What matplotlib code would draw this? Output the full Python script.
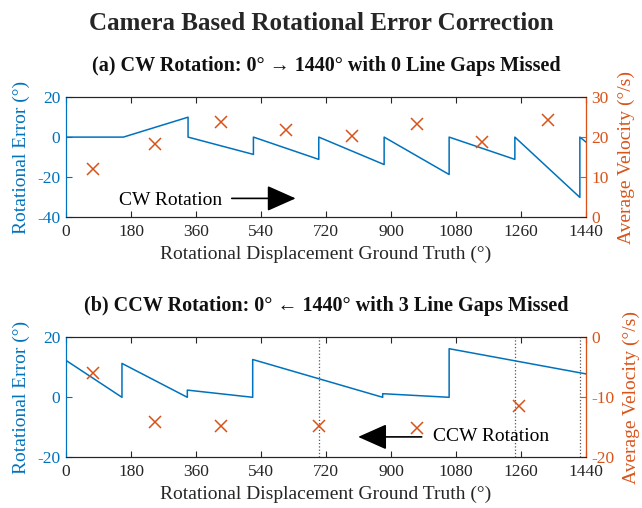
import numpy as np
import matplotlib.pyplot as plt

plt.rcParams['font.family'] = ['Liberation Serif', 'DejaVu Serif']
plt.rcParams['axes.unicode_minus'] = False

BLUE = '#0072BD'
ORANGE = '#D95319'

# (a) CW rotation: rotational error trace
cw_x = [0, 159, 338, 338, 519, 519, 700, 700, 881, 881, 1061, 1061, 1243, 1243, 1423, 1423, 1440]
cw_err = [0, 0, 10, 0, -8.7, 0, -11.2, 0, -13.8, 0, -18.8, 0, -11.2, 0, -30.3, 0, -2.5]
# average velocity per segment
cw_vx = [76, 246, 428, 609, 791, 971, 1153, 1334]
cw_vel = [12.1, 18.3, 23.75, 21.7, 20.2, 23.3, 18.75, 24.2]

# (b) CCW rotation
ccw_x = [0, 155, 155, 336, 336, 517, 517, 877, 877, 1061, 1061, 1440]
ccw_err = [12.3, 0, 11.3, 0, 2.4, 0, 12.6, 0, 1.2, 0, 16.2, 7.8]
ccw_vx = [76, 246, 428, 700, 971, 1254]
ccw_vel = [-5.9, -14.1, -14.8, -14.8, -15.2, -11.4]
missed_gaps = [700, 1243, 1423]

xticks = np.arange(0, 1441, 180)

fig = plt.figure(figsize=(6.42, 5.08), dpi=100)
fig.text(0.5, 1 - 23 / 508, 'Camera Based Rotational Error Correction',
         ha='center', va='center', fontsize=18, fontweight='bold', color='#262626')


def setup(ax, ax2, ylim, yticks, y2lim, y2ticks, title):
    ax.set_xlim(0, 1440)
    ax.set_xticks(xticks)
    ax.set_ylim(*ylim)
    ax.set_yticks(yticks)
    ax2.set_ylim(*y2lim)
    ax2.set_yticks(y2ticks)
    ax.tick_params(axis='x', direction='in', top=True, labelsize=12.5, colors='#262626', length=4, pad=5)
    ax.tick_params(axis='y', direction='in', labelsize=12.5, colors=BLUE, length=4, pad=4)
    ax2.tick_params(axis='y', direction='in', labelsize=12.5, colors=ORANGE, length=4, pad=4)
    for s in ['top', 'bottom']:
        ax.spines[s].set_color('#262626')
        ax2.spines[s].set_color('#262626')
    ax2.spines['left'].set_color(BLUE)
    ax2.spines['right'].set_color(ORANGE)
    ax.spines['left'].set_color(BLUE)
    ax.set_ylabel('Rotational Error (°)', color=BLUE, fontsize=14, labelpad=5)
    ax2.set_ylabel('Average Velocity (°/s)', color=ORANGE, fontsize=14, labelpad=6)
    ax.set_xlabel('Rotational Displacement Ground Truth (°)', color='#262626', fontsize=14, labelpad=4)
    ax.set_title(title, fontsize=14.5, fontweight='bold', pad=19, color='#111111')


# top panel
ax1 = fig.add_axes([66 / 642, 1 - 216.7 / 508, 520 / 642, 119.4 / 508])
ax1b = ax1.twinx()
ax1.plot(cw_x, cw_err, color=BLUE, lw=1.1)
ax1b.plot(cw_vx, cw_vel, 'x', color=ORANGE, ms=9, mew=1.1)
setup(ax1, ax1b, (-40, 20), [-40, -20, 0, 20], (0, 30), [0, 10, 20, 30],
      '(a) CW Rotation: 0° → 1440° with 0 Line Gaps Missed')
ax1.text(148, -31.7, 'CW Rotation', fontsize=14, va='center', ha='left')
ax1.annotate('', xy=(636, -30.8), xytext=(459, -30.8),
             arrowprops=dict(arrowstyle='-|>,head_length=0.9,head_width=0.4',
                             mutation_scale=20, color='k', lw=1.2, shrinkA=0, shrinkB=0))

# bottom panel
ax2 = fig.add_axes([66 / 642, 1 - 457.3 / 508, 520 / 642, 120 / 508])
ax2b = ax2.twinx()
for g in missed_gaps:
    ax2.axvline(g, color='#555555', ls=':', lw=0.9)
ax2.plot(ccw_x, ccw_err, color=BLUE, lw=1.1)
ax2b.plot(ccw_vx, ccw_vel, 'x', color=ORANGE, ms=9, mew=1.1)
setup(ax2, ax2b, (-20, 20), [-20, 0, 20], (-20, 0), [-20, -10, 0],
      '(b) CCW Rotation: 0° ← 1440° with 3 Line Gaps Missed')
ax2.text(1015, -13.2, 'CCW Rotation', fontsize=14, va='center', ha='left')
ax2.annotate('', xy=(809, -13.2), xytext=(985, -13.2),
             arrowprops=dict(arrowstyle='-|>,head_length=0.9,head_width=0.4',
                             mutation_scale=20, color='k', lw=1.2, shrinkA=0, shrinkB=0))

fig.savefig('out.png', dpi=100)
